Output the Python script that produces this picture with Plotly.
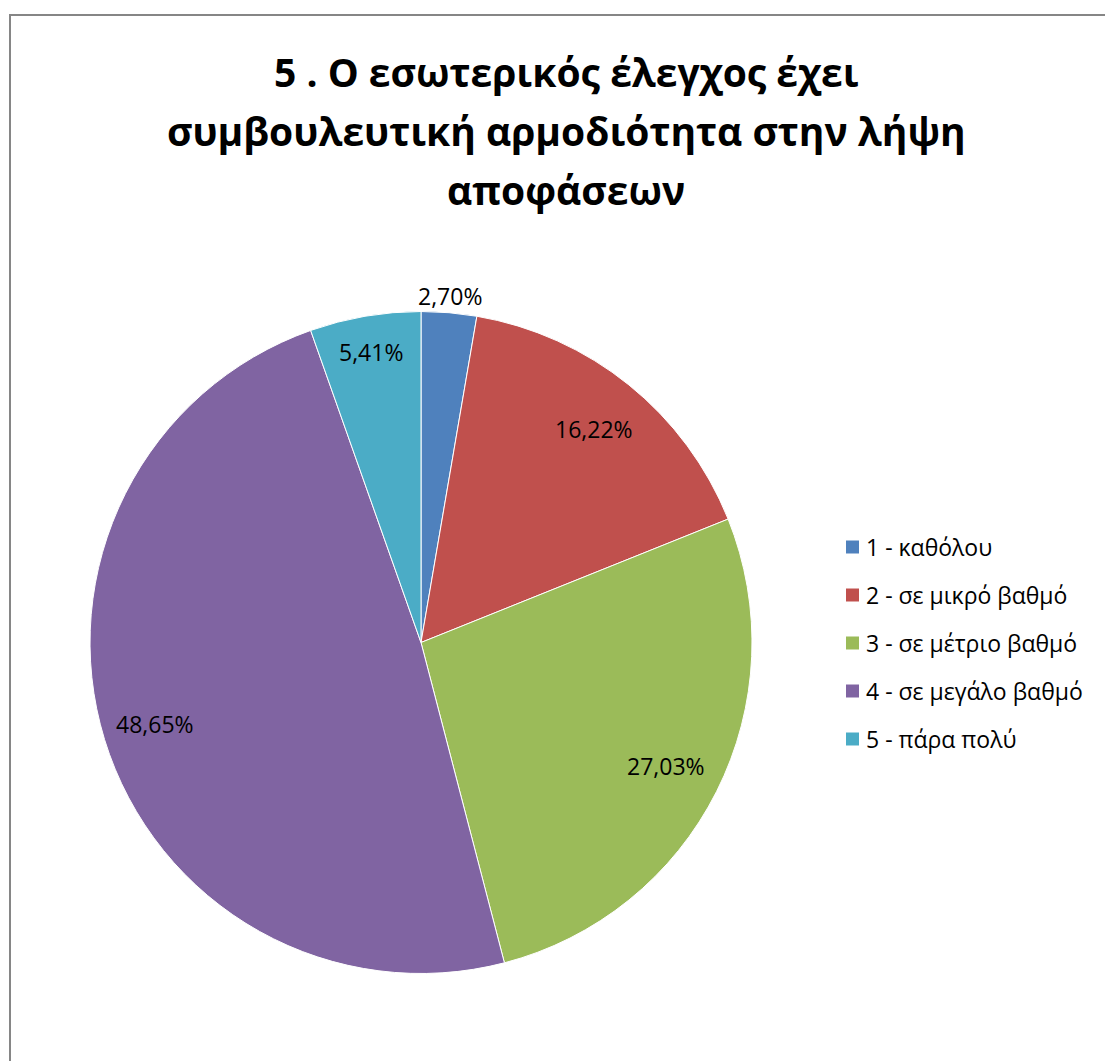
import math
import plotly.graph_objects as go

# Survey answers (share of respondents, %)
categories = ["1 - καθόλου", "2 - σε μικρό βαθμό", "3 - σε μέτριο βαθμό",
              "4 - σε μεγάλο βαθμό", "5 - πάρα πολύ"]
shares = [2.70, 16.22, 27.03, 48.65, 5.41]
title_lines = ["5 . Ο εσωτερικός έλεγχος έχει",
               "συμβουλευτική αρμοδιότητα στην λήψη",
               "αποφάσεων"]

colors = ["#4F81BD", "#C0504D", "#9BBB59", "#8064A2", "#4BACC6"]
label_radius = [1.05, 0.83, 0.83, 0.84, 0.89]  # fraction of pie radius

W, H = 1105, 1061
cx, cy, r = 421, 642.5, 331
FONT = "Open Sans"


def px(x):
    return x / W


def py(y):
    return 1 - y / H


fig = go.Figure(go.Pie(
    labels=categories,
    values=shares,
    sort=False,
    direction="clockwise",
    rotation=0,
    marker=dict(colors=colors, line=dict(color="white", width=1)),
    textinfo="none",
    hoverinfo="label+percent",
    showlegend=False,
    domain=dict(x=[px(cx - r), px(cx + r)], y=[py(cy + r), py(cy - r)]),
))

annotations = []

# Data labels placed along each slice's bisector
total = sum(shares)
cum = 0.0
for v, f in zip(shares, label_radius):
    mid = (cum + v / 2) / total * 2 * math.pi
    cum += v
    lx = cx + f * r * math.sin(mid)
    ly = cy - f * r * math.cos(mid)
    annotations.append(dict(
        x=px(lx), y=py(ly), xref="paper", yref="paper",
        text=f"{v:.2f}%".replace(".", ","), showarrow=False,
        font=dict(family=FONT, size=23, color="black"),
        xanchor="center", yanchor="middle"))

# Title, one annotation per line
for i, line in enumerate(title_lines):
    annotations.append(dict(
        x=px(566), y=py(72 + i * 59), xref="paper", yref="paper",
        text=f"<b>{line}</b>", showarrow=False,
        font=dict(family=FONT, size=39, color="black"),
        xanchor="center", yanchor="middle"))

# Legend: coloured squares with labels
shapes = []
for i, (cat, col) in enumerate(zip(categories, colors)):
    yc = 547 + i * 48
    shapes.append(dict(type="rect", xref="paper", yref="paper",
                       x0=px(846), x1=px(859), y0=py(yc + 6.5), y1=py(yc - 6.5),
                       fillcolor=col, line=dict(width=0)))
    annotations.append(dict(
        x=px(864), y=py(yc), xref="paper", yref="paper",
        text=cat, showarrow=False,
        font=dict(family=FONT, size=23, color="black"),
        xanchor="left", yanchor="middle"))

# Chart frame
shapes.append(dict(type="rect", xref="paper", yref="paper",
                   x0=px(10), x1=px(W + 20), y0=py(H + 20), y1=py(15),
                   line=dict(color="#868686", width=2), fillcolor="rgba(0,0,0,0)"))

fig.update_layout(
    width=W, height=H, autosize=False,
    margin=dict(l=0, r=0, t=0, b=0),
    paper_bgcolor="white", plot_bgcolor="white",
    annotations=annotations, shapes=shapes,
)

fig.write_html("out.html")
